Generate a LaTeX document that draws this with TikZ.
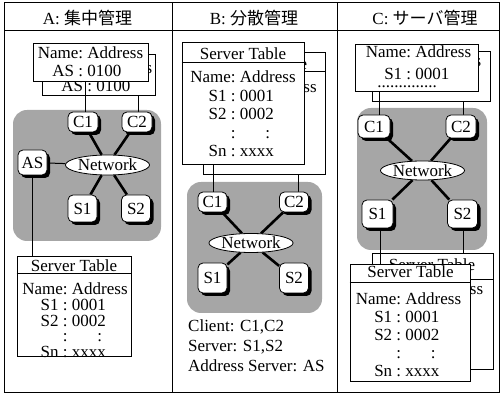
\documentclass[tikz,border=0pt]{standalone}
\usepackage{fontspec}
\setmainfont{Liberation Serif}
\newfontfamily\jpfont{Noto Sans CJK JP}
\usetikzlibrary{shapes.geometric,shadows,backgrounds}
\pgfdeclarelayer{edgelayer}
\pgfsetlayers{background,edgelayer,main}
\newcommand{\srvrows}{\begin{tabular}[t]{@{}r@{\ }l@{}}Name: & Address\\ S1 : & 0001\\ S2 : & 0002\\ : & \hfil :\\ Sn : & xxxx\end{tabular}}
\newcommand{\firstrow}{\begin{tabular}[t]{@{}r@{\ }l@{}}Name: & Address\end{tabular}}
\begin{document}
\begin{tikzpicture}[x=1pt,y=-1pt,
  every node/.style={inner sep=0pt},
  frame/.style={line width=1pt},
  tbl/.style={draw, fill=white, line width=1pt, inner sep=0pt},
  hdrline/.style={line width=1pt},
  txt/.style={font=\fontsize{17}{18}\selectfont},
  hostbox/.style={draw, fill=white, rounded corners=5pt, line width=0.8pt,
    drop shadow={shadow xshift=3pt, shadow yshift=-3pt, fill=black, opacity=1},
    font=\fontsize{17}{18}\selectfont},
  netnode/.style={ellipse, draw, fill=white, line width=0.8pt, minimum width=79pt,
    minimum height=20pt, font=\fontsize{17}{18}\selectfont},
  lan/.style={fill=black!35, rounded corners=14pt},
  trunk/.style={line width=2.6pt},
  wire/.style={line width=1pt}]
\useasboundingbox (0,0) rectangle (501,395);

% ---------- frame ----------
\draw[frame] (4,3) rectangle (499,393);
\draw[frame] (4,31) -- (499,31);
\draw[frame] (172,3) -- (172,393);
\draw[frame] (337,3) -- (337,393);
\node[txt, anchor=base] (tA) at (87.5,24.5) {A: {\jpfont 集中管理}};
\node[txt, anchor=base] (tB) at (254,24.5) {B: {\jpfont 分散管理}};
\node[txt, anchor=base] (tC) at (425,24.5) {C: {\jpfont サーバ管理}};

% ---------- Panel A ----------
\node[tbl, minimum width=113pt, minimum height=41pt] (aBack) at (98.5,75.5) {};
\node[txt, anchor=base] (aBackTxt) at (99.5,74) {\begin{tabular}[t]{@{}r@{\ }l@{}}Name: & Address\\ AS : & 0100\end{tabular}};
\node[tbl, minimum width=115pt, minimum height=38pt] (aFront) at (90.5,63) {};
\node[txt, anchor=base] (aFrontTxt) at (90.5,59) {\begin{tabular}[t]{@{}r@{\ }l@{}}Name: & Address\\ AS : & 0100\end{tabular}};

\begin{pgfonlayer}{background}
\fill[lan] (13,110) rectangle (161,241);
\end{pgfonlayer}
\node[hostbox, minimum width=30pt, minimum height=20pt] (aC1) at (83,122) {C1};
\node[hostbox, minimum width=30pt, minimum height=20pt] (aC2) at (137,122) {C2};
\node[hostbox, minimum width=29pt, minimum height=25pt] (aAS) at (32.5,162.5) {AS};
\node[netnode] (aNet) at (107.5,165) {Network};
\node[hostbox, minimum width=29pt, minimum height=27pt] (aS1) at (82.5,208.5) {S1};
\node[hostbox, minimum width=29pt, minimum height=27pt] (aS2) at (136,208.5) {S2};

\node[tbl, minimum width=114pt, minimum height=100pt] (aTbl) at (74,307) {};
\draw[hdrline] ([yshift=-17pt]aTbl.north west) -- ([yshift=-17pt]aTbl.north east);
\node[txt, anchor=base] (aTblHd) at (74,271.5) {Server Table};
\node[txt, anchor=base, font=\fontsize{17}{15}\selectfont] (aTblTxt) at (75,295) {\srvrows};

\begin{pgfonlayer}{edgelayer}
\draw[trunk] (aC1) -- (aNet);
\draw[trunk] (aC2) -- (aNet);
\draw[trunk] (aS1) -- (aNet);
\draw[trunk] (aS2) -- (aNet);
\draw[wire] (aAS) -- (aNet);
\draw[wire] ([xshift=1pt]aC2.north) -- ([xshift=1pt]aC2.north |- aBack.south);
\draw[wire] (aAS.south) -- (aAS.south |- aTbl.north);
\end{pgfonlayer}
\draw[wire] ([xshift=2pt]aC1.north) -- ([xshift=2pt]aC1.north |- aFront.south);

% ---------- Panel B ----------
\node[tbl, minimum width=122pt, minimum height=122pt] (bBack) at (264,113.5) {};
\draw[hdrline] ([yshift=-20pt]bBack.north west) -- ([yshift=-20pt]bBack.north east);
\node[txt, anchor=base] (bBackHd) at (264,69.5) {Server Table};
\node[txt, anchor=base] (bBackTxt) at (264,92.5) {\firstrow};
\node[tbl, minimum width=122pt, minimum height=122pt] (bFront) at (243,104) {};
\draw[hdrline] ([yshift=-20pt]bFront.north west) -- ([yshift=-20pt]bFront.north east);
\node[txt, anchor=base] (bFrontHd) at (243,60) {Server Table};
\node[txt, anchor=base, font=\fontsize{17}{18.5}\selectfont] (bFrontTxt) at (243,83) {\srvrows};

\begin{pgfonlayer}{background}
\fill[lan] (187,182) rectangle (322,313);
\end{pgfonlayer}
\node[hostbox, minimum width=29pt, minimum height=20pt] (bC1) at (212.5,202) {C1};
\node[hostbox, minimum width=29pt, minimum height=20pt] (bC2) at (294,202) {C2};
\node[netnode, minimum width=78pt, minimum height=19pt] (bNet) at (251,243) {Network};
\node[hostbox, minimum width=29pt, minimum height=30pt] (bS1) at (212.5,278) {S1};
\node[hostbox, minimum width=29pt, minimum height=30pt] (bS2) at (294,278) {S2};

\begin{pgfonlayer}{edgelayer}
\draw[trunk] (bC1) -- (bNet);
\draw[trunk] (bC2) -- (bNet);
\draw[trunk] (bS1) -- (bNet);
\draw[trunk] (bS2) -- (bNet);
\draw[wire] ([xshift=4pt]bC2.north) -- ([xshift=4pt]bC2.north |- bBack.south);
\end{pgfonlayer}
\draw[wire] ([xshift=0.5pt]bC1.north) -- ([xshift=0.5pt]bC1.north |- bFront.south);

\node[anchor=base west, font=\fontsize{17}{20}\selectfont] (bLegend) at (188,332)
  {\begin{tabular}[t]{@{}l@{}}Client: C1,C2\\ Server: S1,S2\\ Address Server: AS\end{tabular}};

% ---------- Panel C ----------
\node[tbl, minimum width=118pt, minimum height=50pt] (cBack) at (431,77) {};
\node[txt, anchor=base] (cBackTxt) at (428.5,67) {\firstrow};
\node[tbl, minimum width=123pt, minimum height=47pt] (cFront) at (416.5,68.5) {};
\node[txt, anchor=base, font=\fontsize{17}{22}\selectfont] (cFrontTxt) at (418.5,58)
  {\begin{tabular}[t]{@{}r@{\ }l@{}}Name: & Address\\ S1 : & 0001\end{tabular}};
\node[txt, anchor=base] (cDots) at (407,87.5) {..............};

\begin{pgfonlayer}{background}
\fill[lan] (357,108) rectangle (487,250);
\end{pgfonlayer}
\node[hostbox, minimum width=32pt, minimum height=23pt] (cC1) at (374,126.5) {C1};
\node[hostbox, minimum width=30pt, minimum height=23pt] (cC2) at (461,126.5) {C2};
\node[netnode, minimum height=19pt] (cNet) at (422.5,170.5) {Network};
\node[hostbox, minimum width=31pt, minimum height=28pt] (cS1) at (377.5,214) {S1};
\node[hostbox, minimum width=30pt, minimum height=28pt] (cS2) at (462.5,214) {S2};

\node[tbl, minimum width=121pt, minimum height=116pt] (cBBack) at (432.5,312) {};
\draw[hdrline] ([yshift=-26pt]cBBack.north west) -- ([yshift=-26pt]cBBack.north east);
\node[txt, anchor=base] (cBBackHd) at (432,271) {Server Table};
\node[txt, anchor=base] (cBBackTxt) at (430.5,295) {\firstrow};
\node[tbl, minimum width=120pt, minimum height=117pt] (cBFront) at (410,323.5) {};
\draw[hdrline] ([yshift=-18pt]cBFront.north west) -- ([yshift=-18pt]cBFront.north east);
\node[txt, anchor=base] (cBFrontHd) at (410.5,278) {Server Table};
\node[txt, anchor=base, font=\fontsize{17}{18}\selectfont] (cBFrontTxt) at (408.5,305) {\srvrows};

\begin{pgfonlayer}{edgelayer}
\draw[trunk] (cC1) -- (cNet);
\draw[trunk] (cC2) -- (cNet);
\draw[trunk] (cS1) -- (cNet);
\draw[trunk] (cS2) -- (cNet);
\draw[wire] ([xshift=2pt]cC2.north) -- ([xshift=2pt]cC2.north |- cBack.south);
\draw[wire] ([xshift=0.5pt]cS2.south) -- ([xshift=0.5pt]cS2.south |- cBBack.north);
\end{pgfonlayer}
\draw[wire] ([xshift=5pt]cC1.north) -- ([xshift=5pt]cC1.north |- cFront.south);
\draw[wire] ([xshift=2.5pt]cS1.south) -- ([xshift=2.5pt]cS1.south |- cBFront.north);
\end{tikzpicture}
\end{document}
